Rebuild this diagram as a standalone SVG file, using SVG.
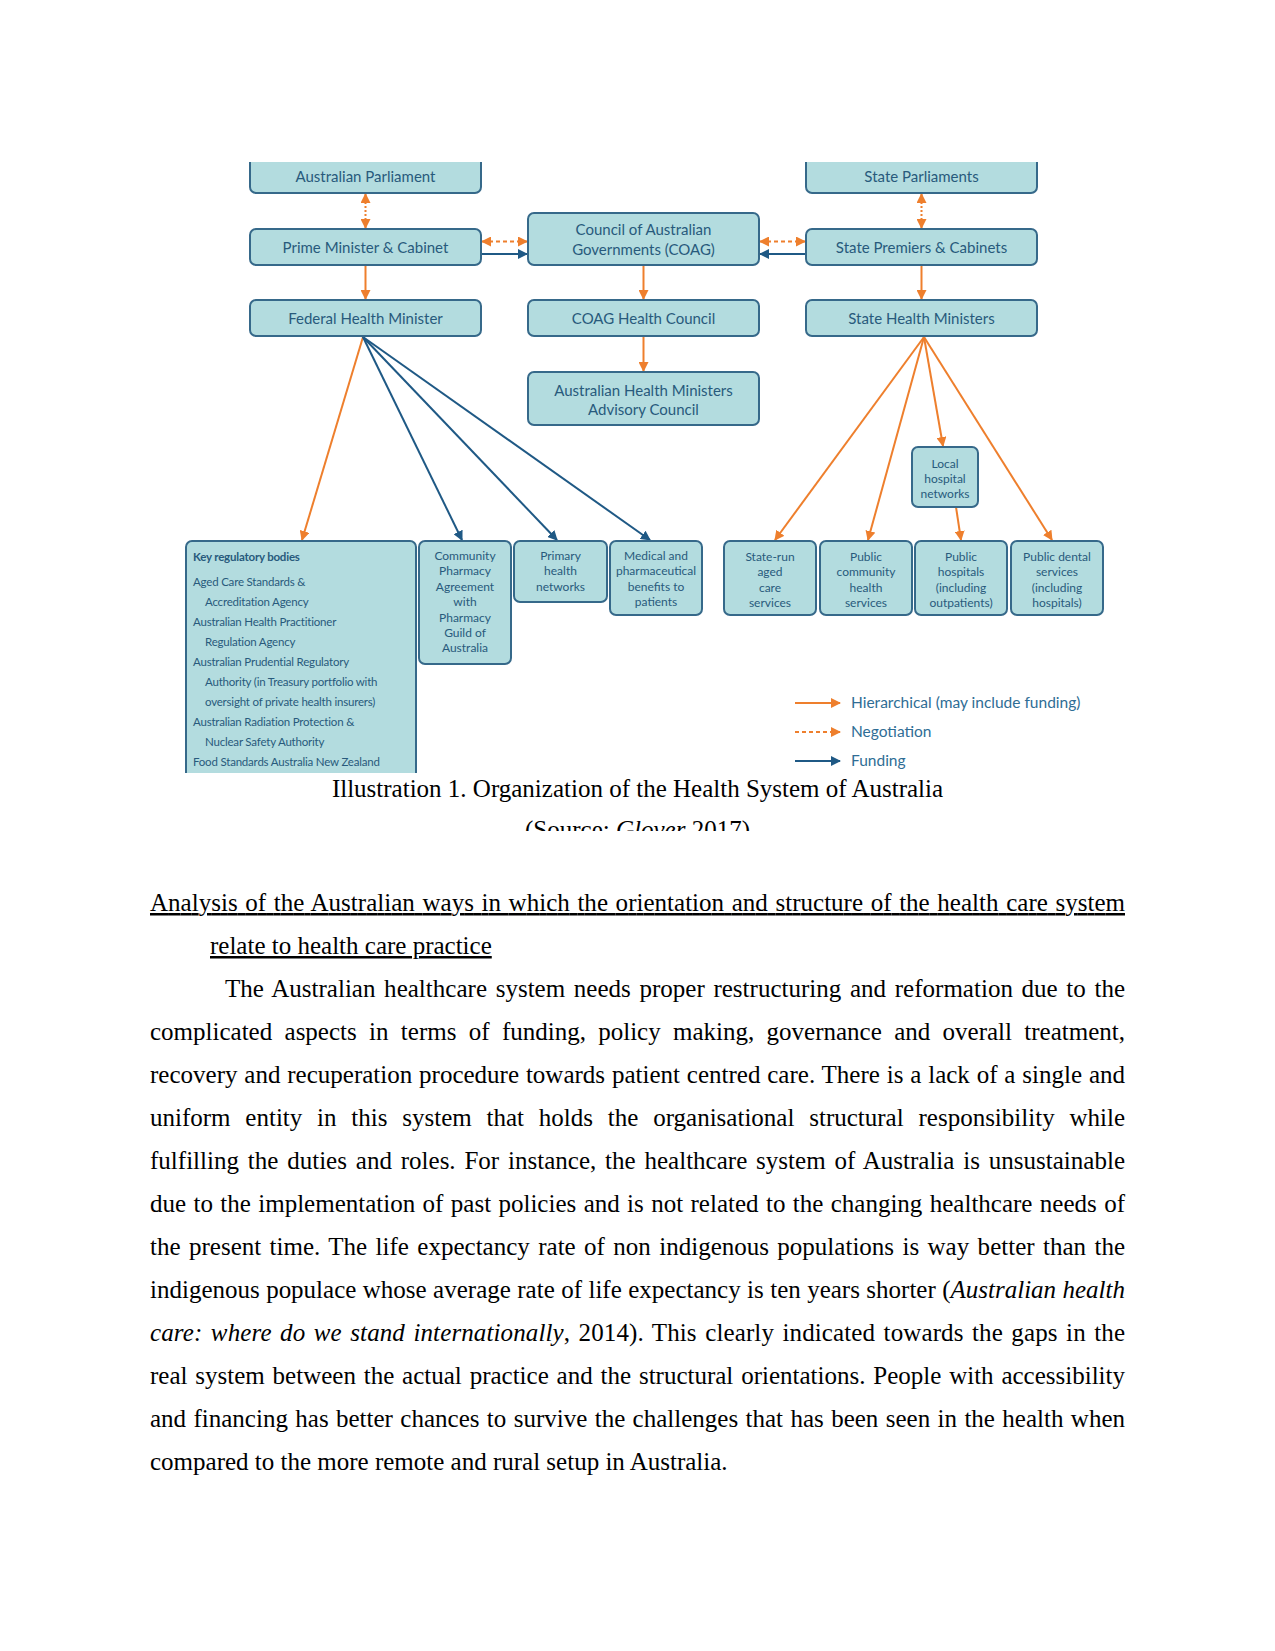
<svg xmlns="http://www.w3.org/2000/svg" width="1275" height="1651" viewBox="0 0 1275 1651">
<style>
.box{fill:#b3dcdf;stroke:#36698a;stroke-width:2}
.t{font-family:Lato,'Open Sans',sans-serif;fill:#285a7c;text-anchor:middle}
.t15{font-size:15px}
.t12{font-size:12px}
.k{font-family:Lato,'Open Sans',sans-serif;fill:#285a7c;font-size:11.5px;letter-spacing:-0.2px}
.lg{font-family:Lato,'Open Sans',sans-serif;fill:#2f6d95;font-size:15.5px}
.h{stroke:#ee7f2d;stroke-width:2;fill:none}
.n{stroke:#ee7f2d;stroke-width:2;stroke-dasharray:4 3;fill:none}
.nd{stroke:#ee7f2d;stroke-width:2;stroke-dasharray:2 2;fill:none}
.f{stroke:#1f5985;stroke-width:2;fill:none}
.body{font-family:'Liberation Serif','Times New Roman',serif;font-size:25px;fill:#000}
</style>
<defs>
<marker id="ao" viewBox="0 0 10 10" refX="9" refY="5" markerWidth="10" markerHeight="10" markerUnits="userSpaceOnUse" orient="auto-start-reverse"><path d="M0,0 L10,5 L0,10 z" fill="#ee7f2d"/></marker>
<marker id="ab" viewBox="0 0 10 10" refX="9" refY="5" markerWidth="10" markerHeight="10" markerUnits="userSpaceOnUse" orient="auto-start-reverse"><path d="M0,0 L10,5 L0,10 z" fill="#1f5985"/></marker>
<clipPath id="img"><rect x="170" y="162" width="940" height="611"/></clipPath>
<clipPath id="cap"><rect x="0" y="773" width="1275" height="58"/></clipPath>
</defs>
<rect width="1275" height="1651" fill="#fff"/>
<g clip-path="url(#img)">
<g id="connectors">
<path class="nd" d="M365.5,194 L365.5,228" marker-start="url(#ao)" marker-end="url(#ao)"/>
<path class="nd" d="M921.5,194 L921.5,228" marker-start="url(#ao)" marker-end="url(#ao)"/>
<path class="n" d="M482,241.5 L527,241.5" marker-start="url(#ao)" marker-end="url(#ao)"/>
<path class="f" d="M482,254 L527,254" marker-end="url(#ab)"/>
<path class="n" d="M760,241.5 L805,241.5" marker-start="url(#ao)" marker-end="url(#ao)"/>
<path class="f" d="M805,254 L760,254" marker-end="url(#ab)"/>
<path class="h" d="M365.5,265 L365.5,299" marker-end="url(#ao)"/>
<path class="h" d="M643.5,265 L643.5,299" marker-end="url(#ao)"/>
<path class="h" d="M921.5,265 L921.5,299" marker-end="url(#ao)"/>
<path class="h" d="M643.5,336 L643.5,371" marker-end="url(#ao)"/>
<path class="h" d="M363,337 L302,540" marker-end="url(#ao)"/>
<path class="f" d="M363,337 L462,540" marker-end="url(#ab)"/>
<path class="f" d="M363,337 L557,540" marker-end="url(#ab)"/>
<path class="f" d="M363,337 L650,540" marker-end="url(#ab)"/>
<path class="h" d="M924,337 L775,540" marker-end="url(#ao)"/>
<path class="h" d="M924,337 L868,540" marker-end="url(#ao)"/>
<path class="h" d="M924,337 L943,446" marker-end="url(#ao)"/>
<path class="h" d="M924,337 L1052,540" marker-end="url(#ao)"/>
<path class="h" d="M956,507 L961,540" marker-end="url(#ao)"/>
<path class="h" d="M795,703 L840,703" marker-end="url(#ao)"/>
<path class="n" d="M795,732 L840,732" marker-end="url(#ao)"/>
<path class="f" d="M795,761 L840,761" marker-end="url(#ab)"/>
</g>
<g id="n-aus-parliament"><rect class="box" x="250" y="140" width="231" height="53" rx="6"/><text class="t t15" x="365.5" y="181.5">Australian Parliament</text></g>
<g id="n-state-parliaments"><rect class="box" x="806" y="140" width="231" height="53" rx="6"/><text class="t t15" x="921.5" y="181.5">State Parliaments</text></g>
<g id="n-pm"><rect class="box" x="250" y="229" width="231" height="36" rx="6"/><text class="t t15" x="365.5" y="252.5">Prime Minister &amp; Cabinet</text></g>
<g id="n-coag"><rect class="box" x="528" y="213" width="231" height="52" rx="6"/><text class="t t15" x="643.5" y="235">Council of Australian</text><text class="t t15" x="643.5" y="255">Governments (COAG)</text></g>
<g id="n-premiers"><rect class="box" x="806" y="229" width="231" height="36" rx="6"/><text class="t t15" x="921.5" y="252.5">State Premiers &amp; Cabinets</text></g>
<g id="n-federal"><rect class="box" x="250" y="300" width="231" height="36" rx="6"/><text class="t t15" x="365.5" y="323.5">Federal Health Minister</text></g>
<g id="n-coag-hc"><rect class="box" x="528" y="300" width="231" height="36" rx="6"/><text class="t t15" x="643.5" y="323.5">COAG Health Council</text></g>
<g id="n-state-health"><rect class="box" x="806" y="300" width="231" height="36" rx="6"/><text class="t t15" x="921.5" y="323.5">State Health Ministers</text></g>
<g id="n-ahmac"><rect class="box" x="528" y="372" width="231" height="53" rx="6"/><text class="t t15" x="643.5" y="395.5">Australian Health Ministers</text><text class="t t15" x="643.5" y="415">Advisory Council</text></g>
<g id="n-key"><rect class="box" x="186" y="541" width="230" height="260" rx="6"/>
<text class="k" x="193" y="560.5" font-weight="bold">Key regulatory bodies</text>
<text class="k" x="193" y="585.5">Aged Care Standards &amp;</text>
<text class="k" x="205" y="605.6">Accreditation Agency</text>
<text class="k" x="193" y="625.7">Australian Health Practitioner</text>
<text class="k" x="205" y="645.8">Regulation Agency</text>
<text class="k" x="193" y="665.9">Australian Prudential Regulatory</text>
<text class="k" x="205" y="686">Authority (in Treasury portfolio with</text>
<text class="k" x="205" y="706.1">oversight of private health insurers)</text>
<text class="k" x="193" y="726.2">Australian Radiation Protection &amp;</text>
<text class="k" x="205" y="746.3">Nuclear Safety Authority</text>
<text class="k" x="193" y="766.4">Food Standards Australia New Zealand</text>
</g>
<g id="n-community"><rect class="box" x="419" y="541" width="92" height="123" rx="6"/>
<text class="t t12"><tspan x="465" y="560">Community</tspan><tspan x="465" y="575.4">Pharmacy</tspan><tspan x="465" y="590.8">Agreement</tspan><tspan x="465" y="606.2">with</tspan><tspan x="465" y="621.6">Pharmacy</tspan><tspan x="465" y="637">Guild of</tspan><tspan x="465" y="652.4">Australia</tspan></text></g>
<g id="n-primary"><rect class="box" x="514" y="541" width="93" height="61" rx="6"/>
<text class="t t12"><tspan x="560.5" y="560">Primary</tspan><tspan x="560.5" y="575.4">health</tspan><tspan x="560.5" y="590.8">networks</tspan></text></g>
<g id="n-medical"><rect class="box" x="610" y="541" width="92" height="74" rx="6"/>
<text class="t t12"><tspan x="656" y="560">Medical and</tspan><tspan x="656" y="575.4">pharmaceutical</tspan><tspan x="656" y="590.8">benefits to</tspan><tspan x="656" y="606.2">patients</tspan></text></g>
<g id="n-aged"><rect class="box" x="724" y="541" width="92" height="74" rx="6"/>
<text class="t t12"><tspan x="770" y="561">State-run</tspan><tspan x="770" y="576.3">aged</tspan><tspan x="770" y="591.6">care</tspan><tspan x="770" y="606.9">services</tspan></text></g>
<g id="n-community-health"><rect class="box" x="820" y="541" width="92" height="74" rx="6"/>
<text class="t t12"><tspan x="866" y="561">Public</tspan><tspan x="866" y="576.3">community</tspan><tspan x="866" y="591.6">health</tspan><tspan x="866" y="606.9">services</tspan></text></g>
<g id="n-hospitals"><rect class="box" x="915" y="541" width="92" height="74" rx="6"/>
<text class="t t12"><tspan x="961" y="561">Public</tspan><tspan x="961" y="576.3">hospitals</tspan><tspan x="961" y="591.6">(including</tspan><tspan x="961" y="606.9">outpatients)</tspan></text></g>
<g id="n-dental"><rect class="box" x="1011" y="541" width="92" height="74" rx="6"/>
<text class="t t12"><tspan x="1057" y="561">Public dental</tspan><tspan x="1057" y="576.3">services</tspan><tspan x="1057" y="591.6">(including</tspan><tspan x="1057" y="606.9">hospitals)</tspan></text></g>
<g id="n-local"><rect class="box" x="912" y="447" width="66" height="60" rx="6"/>
<text class="t t12"><tspan x="945" y="467.5">Local</tspan><tspan x="945" y="482.5">hospital</tspan><tspan x="945" y="497.5">networks</tspan></text></g>
<g id="legend">
<text class="lg" x="851" y="708">Hierarchical (may include funding)</text>
<text class="lg" x="851" y="737">Negotiation</text>
<text class="lg" x="851" y="766">Funding</text>
</g>
</g>
<g id="caption" class="body" text-anchor="middle" clip-path="url(#cap)">
<text x="637.5" y="797">Illustration 1. Organization of the Health System of Australia</text>
<text x="637.5" y="838">(Source: <tspan font-style="italic">Glover</tspan> 2017)</text>
</g>
<g id="text" class="body">
<text x="150" y="911" textLength="975" lengthAdjust="spacing" word-spacing="1.35" text-decoration="underline">Analysis of the Australian ways in which the orientation and structure of the health care system</text>
<text x="210" y="954" text-decoration="underline">relate to health care practice</text>
<text x="225" y="997" textLength="900" lengthAdjust="spacing" word-spacing="2.35">The Australian healthcare system needs proper restructuring and reformation due to the</text>
<text x="150" y="1040" textLength="975" lengthAdjust="spacing" word-spacing="6.07">complicated aspects in terms of funding, policy making, governance and overall treatment,</text>
<text x="150" y="1083" textLength="975" lengthAdjust="spacing" word-spacing="0.58">recovery and recuperation procedure towards patient centred care. There is a lack of a single and</text>
<text x="150" y="1126" textLength="975" lengthAdjust="spacing" word-spacing="8.52">uniform entity in this system that holds the organisational structural responsibility while</text>
<text x="150" y="1169" textLength="975" lengthAdjust="spacing" word-spacing="2.52">fulfilling the duties and roles. For instance, the healthcare system of Australia is unsustainable</text>
<text x="150" y="1212" textLength="975" lengthAdjust="spacing" word-spacing="1.14">due to the implementation of past policies and is not related to the changing healthcare needs of</text>
<text x="150" y="1255" textLength="975" lengthAdjust="spacing" word-spacing="2.14">the present time. The life expectancy rate of non indigenous populations is way better than the</text>
<text x="150" y="1298" textLength="975" lengthAdjust="spacing" word-spacing="0.18">indigenous populace whose average rate of life expectancy is ten years shorter (<tspan font-style="italic">Australian health</tspan></text>
<text x="150" y="1341" textLength="975" lengthAdjust="spacing" word-spacing="2.09"><tspan font-style="italic">care: where do we stand internationally</tspan>, 2014). This clearly indicated towards the gaps in the</text>
<text x="150" y="1384" textLength="975" lengthAdjust="spacing" word-spacing="1.58">real system between the actual practice and the structural orientations. People with accessibility</text>
<text x="150" y="1427" textLength="975" lengthAdjust="spacing" word-spacing="1.14">and financing has better chances to survive the challenges that has been seen in the health when</text>
<text x="150" y="1470">compared to the more remote and rural setup in Australia.</text>
</g>
</svg>
